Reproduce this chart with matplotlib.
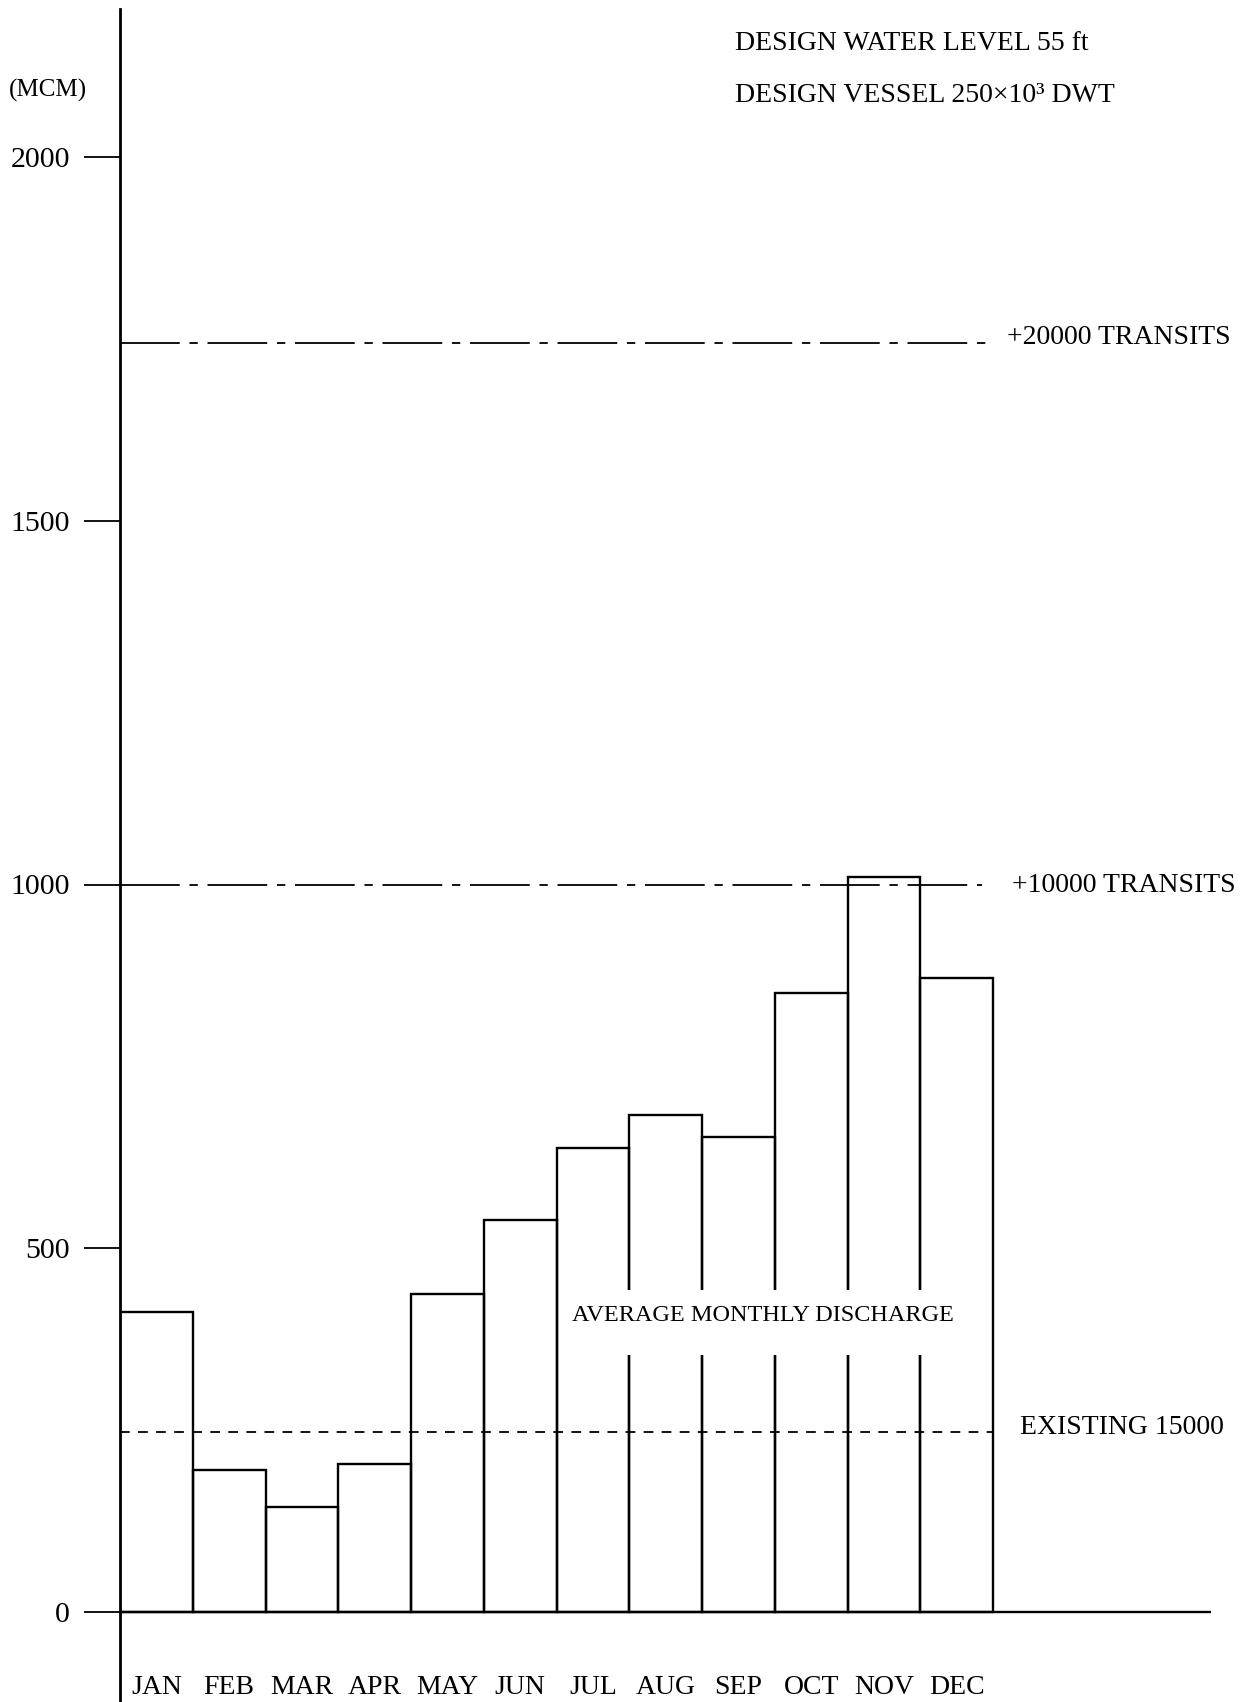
import matplotlib
matplotlib.use("Agg")
import matplotlib.pyplot as plt
from matplotlib.patches import Rectangle

plt.rcParams['font.family'] = ['Liberation Serif', 'DejaVu Serif']
plt.rcParams['lines.scale_dashes'] = False

# Data
months = ["JAN", "FEB", "MAR", "APR", "MAY", "JUN", "JUL", "AUG", "SEP", "OCT", "NOV", "DEC"]
discharge = [412, 195, 145, 203, 437, 539, 638, 683, 653, 851, 1010, 872]  # MCM
transits_20000 = 1745
transits_10000 = 1000
existing_15000 = 247
yticks = [0, 500, 1000, 1500, 2000]

fig = plt.figure(figsize=(12.55, 17.02), dpi=100)
fig.patch.set_facecolor('white')

# axes laid out in pixels: y axis at x=120px, zero at y=1612px
W, H = 1255, 1702
ax = fig.add_axes([120 / W, 0, (W - 120) / W, (H - 9) / H])
ax.set_xlim(0, (W - 120) / 72.75)
ax.set_ylim(-(H - 1612) / 0.7275, (1612 - 9) / 0.7275)

for s in ['top', 'right', 'bottom']:
    ax.spines[s].set_visible(False)
ax.spines['left'].set_linewidth(2)

# monthly bars
x = list(range(len(months)))
ax.bar(x, discharge, width=1, align='edge', fill=False, edgecolor='black', linewidth=1.7)

# baseline
ax.hlines(0, 0, 15, color='black', linewidth=1.7)

# transit lines
ax.plot([0, 11.93], [transits_20000] * 2, color='black', linewidth=1.3,
        linestyle=(0, (43, 7, 6, 7)))
ax.plot([0, 11.85], [transits_10000] * 2, color='black', linewidth=1.3,
        linestyle=(0, (43, 7, 6, 7)))
ax.plot([0, 12], [existing_15000] * 2, color='black', linewidth=1.3,
        linestyle=(0, (7, 6)))

fs = 20
ax.text(12.19, 1752, "+20000 TRANSITS", fontsize=fs, va='center', ha='left')
ax.text(12.26, 998, "+10000 TRANSITS", fontsize=fs, va='center', ha='left')
ax.text(12.37, 253, "EXISTING 15000", fontsize=fs, va='center', ha='left')

# label over the bars, with a blank patch behind it
ax.add_patch(Rectangle((6.12, 353), 5.29, 90, facecolor='white', edgecolor='none', zorder=3))
ax.text(6.21, 408, "AVERAGE MONTHLY DISCHARGE", fontsize=17.5, va='center', ha='left', zorder=4)

ax.text(8.45, 2156, "DESIGN WATER LEVEL 55 ft", fontsize=fs, va='center', ha='left')
ax.text(8.45, 2084, "DESIGN VESSEL 250×10³ DWT", fontsize=fs, va='center', ha='left')

# month labels under bars
for i, m in enumerate(months):
    ax.text(i + 0.5, -104, m, fontsize=fs, va='center', ha='center', clip_on=False)

# y ticks
ax.set_xticks([])
ax.set_yticks(yticks)
ax.set_yticklabels([str(t) for t in yticks])
ax.tick_params(axis='y', direction='out', length=26, width=1.3, pad=10, labelsize=21.5)

fig.text(9 / W, 1 - 90 / H, "(MCM)", fontsize=18, va='center', ha='left')

fig.savefig('out.png', dpi=100, facecolor='white')
